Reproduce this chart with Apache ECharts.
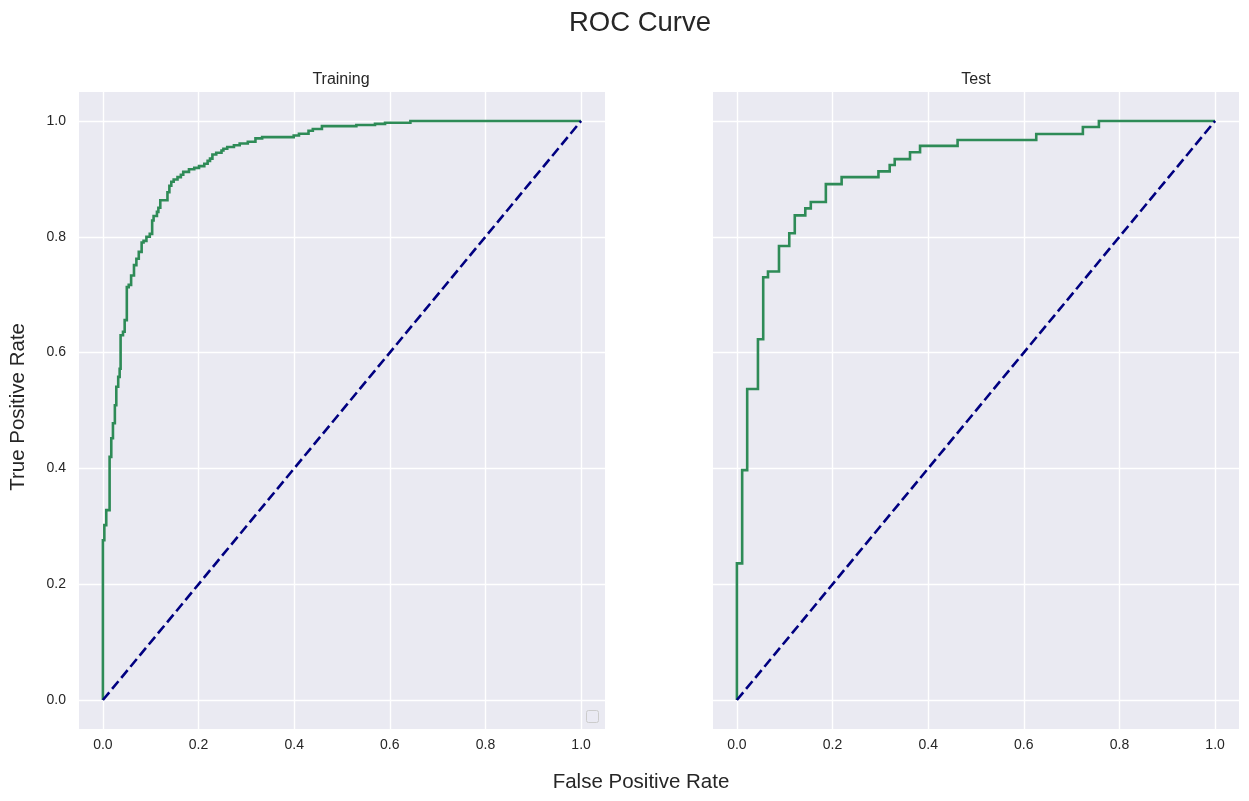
<!DOCTYPE html>
<html>
<head>
<meta charset="utf-8">
<script src="https://cdn.jsdelivr.net/npm/echarts@6/dist/echarts.min.js"></script>
<style>html,body{margin:0;padding:0;background:#fff}#c{width:1249px;height:801px}</style>
</head>
<body>
<div id="c"></div>
<script>
const tickValues = [0, 0.2, 0.4, 0.6, 0.8, 1.0];
const tickLabels = ['0.0', '0.2', '0.4', '0.6', '0.8', '1.0'];
const panelTitles = ['Training', 'Test'];
// ROC corner points [fpr, tpr] (curve rises at fpr to tpr, then moves right)
const trainRoc = [
  [0,0],[0,0.276],[0.003,0.302],[0.007,0.328],[0.014,0.42],[0.0175,0.452],[0.021,0.478],
  [0.025,0.509],[0.028,0.541],[0.032,0.558],[0.035,0.572],[0.037,0.63],[0.042,0.636],
  [0.0455,0.656],[0.05,0.713],[0.054,0.717],[0.059,0.733],[0.065,0.751],[0.07,0.762],
  [0.075,0.774],[0.081,0.79],[0.085,0.793],[0.091,0.80],[0.098,0.805],[0.103,0.828],
  [0.106,0.836],[0.113,0.843],[0.116,0.85],[0.12,0.863],[0.135,0.877],[0.139,0.888],
  [0.143,0.895],[0.148,0.899],[0.156,0.903],[0.163,0.907],[0.168,0.912],[0.18,0.9165],
  [0.191,0.919],[0.201,0.922],[0.212,0.926],[0.219,0.931],[0.224,0.935],[0.229,0.942],
  [0.237,0.945],[0.248,0.949],[0.252,0.952],[0.26,0.955],[0.274,0.958],[0.286,0.961],
  [0.303,0.964],[0.319,0.97],[0.333,0.972],[0.399,0.975],[0.41,0.978],[0.43,0.983],
  [0.439,0.986],[0.458,0.991],[0.53,0.993],[0.569,0.995],[0.59,0.997],[0.643,1.0],[1.0,1.0]
];
const testRoc = [
  [0,0],[0,0.236],[0.011,0.397],[0.0215,0.537],[0.044,0.623],[0.055,0.730],[0.065,0.740],
  [0.088,0.784],[0.1095,0.806],[0.121,0.837],[0.143,0.849],[0.1545,0.860],[0.186,0.891],
  [0.219,0.903],[0.296,0.913],[0.3195,0.924],[0.33,0.934],[0.362,0.946],[0.383,0.957],
  [0.4615,0.967],[0.626,0.9775],[0.7235,0.9896],[0.757,1.0],[1,1]
];
const chanceLine = [[0,0],[1,1]];

// expand ROC corner points into an explicit staircase (rise, then move right)
function staircase(pts) {
  const out = [pts[0]];
  for (let i = 1; i < pts.length; i++) {
    out.push([pts[i][0], pts[i - 1][1]]);
    out.push(pts[i]);
  }
  return out;
}

const FONT = '"Liberation Sans", Arial, sans-serif';
const TXT = '#262626';
const GREEN = '#2E8B57';
const fmt = v => { const k = tickValues.findIndex(t => Math.abs(t - v) < 1e-6); return k >= 0 ? tickLabels[k] : ''; };

function xAxisFor(i) {
  return {
    gridIndex: i, type: 'value', min: -0.05, max: 1.05,
    axisLine: {show: false},
    axisTick: {show: false, customValues: tickValues},
    axisLabel: {customValues: tickValues, formatter: fmt, color: TXT, fontSize: 14, fontFamily: FONT, margin: 9},
    splitLine: {show: true, lineStyle: {color: '#ffffff', width: 1.4}}
  };
}
function yAxisFor(i, showLabels) {
  return {
    gridIndex: i, type: 'value', min: -0.05, max: 1.05,
    axisLine: {show: false},
    axisTick: {show: false, customValues: tickValues},
    axisLabel: {show: showLabels, customValues: tickValues, formatter: fmt, color: TXT, fontSize: 14, fontFamily: FONT, margin: 13},
    splitLine: {show: true, lineStyle: {color: '#ffffff', width: 1.4}}
  };
}

// staircase drawn as one polyline through the axes' own coordinate mapping
function rocSeries(idx, pts) {
  const stairs = staircase(pts);
  return {
    type: 'custom', xAxisIndex: idx, yAxisIndex: idx, coordinateSystem: 'cartesian2d',
    data: stairs, z: 3, silent: true,
    encode: {x: 0, y: 1},
    renderItem: function (params, api) {
      if (params.dataIndex !== 0) return null;
      const points = stairs.map(p => api.coord(p));
      return {
        type: 'polyline',
        shape: {points: points},
        style: {fill: null, stroke: GREEN, lineWidth: 2.6, lineJoin: 'miter', lineCap: 'butt'}
      };
    }
  };
}

const chart = echarts.init(document.getElementById('c'), null, {renderer: 'canvas'});
chart.setOption({
  backgroundColor: '#ffffff',
  animation: false,
  title: [
    {text: 'ROC Curve', left: 635, top: 4, textAlign: 'center',
      textStyle: {fontSize: 27.5, fontWeight: 'normal', color: TXT, fontFamily: FONT}},
    {text: panelTitles[0], left: 336, top: 67, textAlign: 'center',
      textStyle: {fontSize: 16, fontWeight: 'normal', color: TXT, fontFamily: FONT}},
    {text: panelTitles[1], left: 971, top: 67, textAlign: 'center',
      textStyle: {fontSize: 16, fontWeight: 'normal', color: TXT, fontFamily: FONT}},
    {text: 'False Positive Rate', left: 636, top: 767, textAlign: 'center',
      textStyle: {fontSize: 20.5, fontWeight: 'normal', color: TXT, fontFamily: FONT}}
  ],
  graphic: [
    {type: 'text', left: 8, top: 323, rotation: Math.PI / 2,
      style: {text: 'True Positive Rate', fill: TXT, font: '20.5px "Liberation Sans", Arial, sans-serif'}},
    {type: 'rect', left: 586, top: 710, shape: {width: 12, height: 12, r: 2},
      style: {fill: 'rgba(234,234,242,0.8)', stroke: '#cccccc', lineWidth: 1}, z: 100}
  ],
  grid: [
    {left: 79, top: 92, width: 526, height: 637, show: true, backgroundColor: '#EAEAF2', borderWidth: 0},
    {left: 713, top: 92, width: 526, height: 637, show: true, backgroundColor: '#EAEAF2', borderWidth: 0}
  ],
  xAxis: [xAxisFor(0), xAxisFor(1)],
  yAxis: [yAxisFor(0, true), yAxisFor(1, false)],
  series: [
    rocSeries(0, trainRoc),
    {type: 'line', xAxisIndex: 0, yAxisIndex: 0, data: chanceLine, symbol: 'none',
      lineStyle: {color: '#000080', width: 2.6, type: [10, 4.4]}, z: 4},
    rocSeries(1, testRoc),
    {type: 'line', xAxisIndex: 1, yAxisIndex: 1, data: chanceLine, symbol: 'none',
      lineStyle: {color: '#000080', width: 2.6, type: [10, 4.4]}, z: 4}
  ]
});
</script>
</body>
</html>
